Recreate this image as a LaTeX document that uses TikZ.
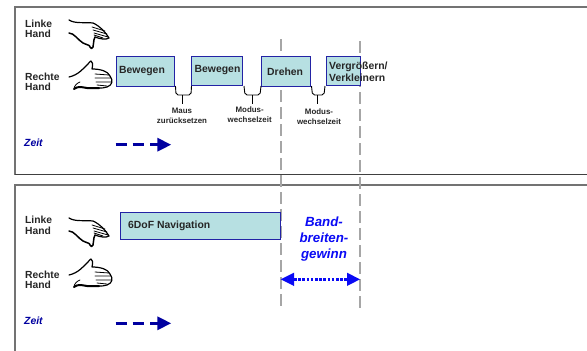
\documentclass[tikz,border=0pt]{standalone}
\usepackage{fontspec}
\setmainfont{Liberation Sans}
\definecolor{darkblue}{RGB}{0,0,160}
\definecolor{brightblue}{RGB}{10,10,245}
\definecolor{boxfill}{RGB}{183,224,226}
\definecolor{boxline}{RGB}{35,35,165}
\tikzset{
 x=1pt,y=-1pt,
 frame/.style={draw=black!55,line width=1.2pt},
 task/.style={draw=boxline,fill=boxfill,line width=1pt,inner sep=0pt,outer sep=0pt},
 lbl/.style={font=\fontsize{10.3}{10.2}\selectfont\bfseries,align=left,anchor=west,text=black!85,inner sep=0pt},
 small/.style={font=\fontsize{7.9}{10}\selectfont\bfseries,align=center,text=black!85,inner sep=0pt},
 tasklbl/.style={font=\fontsize{10.4}{12}\selectfont\bfseries,align=left,anchor=west,text=black!85,inner sep=0pt},
 zeit/.style={font=\fontsize{10.4}{12}\selectfont\bfseries\itshape,anchor=west,text=darkblue,inner sep=0pt},
 guide/.style={draw=black!35,line width=2.8pt,dash pattern=on 12pt off 5pt},
 brace/.style={draw=black,line width=.9pt,rounded corners=2pt},
 timeline/.style={draw=darkblue,line width=3.4pt},
 hand/.style={draw=black,line width=1.2pt,line cap=round,line join=round},
}
\newcommand{\lefthand}[2]{\begin{scope}[shift={(#1,#2)}]
 \draw[hand] (0,0) .. controls (6,4) and (16,2) .. (24,3) .. controls (31,6) and (37,13) .. (40,18) .. controls (37,20) and (31,19) .. (26,17);
 \draw[hand,line width=1.5pt] (0,13) .. controls (5,13) and (9,20) .. (14,23) .. controls (18,25) and (21,25) .. (21,27) .. controls (21,29) and (24,29) .. (24,27) .. controls (25,24) and (24,21) .. (26,17);
 \draw[hand,line width=.8pt] (23,7) -- (36,11) (24,10) -- (38,14) (25,13) -- (39,17) (25,15) -- (34,18);
\end{scope}}
\newcommand{\righthand}[2]{\begin{scope}[shift={(#1,#2)}]
 \draw[hand] (0,16) .. controls (9,14) and (14,8) .. (19,3) .. controls (21,1) and (21,0) .. (22,0) .. controls (25,3) and (23,6) .. (23,8) .. controls (31,8) and (39,10) .. (41,15) .. controls (44,19) and (44,24) .. (38,26) .. controls (35,27) and (33,27) .. (30,27);
 \draw[hand,line width=2pt] (5,28) .. controls (9,25) and (12,26) .. (18,27) -- (30,27);
 \draw[hand,line width=.8pt] (5,28) .. controls (5,25) and (8,22) .. (11,21);
 \draw[hand,line width=.8pt] (26,13) -- (40,14) (26,17) -- (42,17) (27,21) -- (42,21) (28,24) -- (38,25);
\end{scope}}
\begin{document}
\begin{tikzpicture}
\useasboundingbox (0,0) rectangle (587,351);
\fill[white] (0,0) rectangle (587,351);
% frames
\draw[frame] (587,7) -- (15,7) -- (15,174.5);
\draw[draw=black!75,line width=1.2pt] (15,174.5) -- (587,174.5);
\draw[frame] (587,185) -- (15,185) -- (15,351);
% guides
\coordinate (g1a) at (281,39);
\coordinate (g1b) at (281,308);
\coordinate (g2a) at (360,41);
\coordinate (g2b) at (360,309);
\draw[guide] (g1a) -- (g1b);
\draw[guide] (g2a) -- (g2b);
% top
\node[lbl] (ll1) at (25,28.5) {Linke\\Hand};
\node[lbl] (rh1) at (25,81.8) {Rechte\\Hand};
\lefthand{69}{20}
\righthand{69}{61}
\node[task,minimum width=58.4pt,minimum height=30pt,anchor=north west] (b1) at (116.4,56) {};
\node[task,minimum width=51pt,minimum height=29.7pt,anchor=north west] (b2) at (191.7,56) {};
\node[task,minimum width=49.4pt,minimum height=29.5pt,anchor=north west] (b3) at (261,56.5) {};
\node[task,minimum width=34.6pt,minimum height=29pt,anchor=north west] (b4) at (326,56.7) {};
\node[tasklbl] (t1) at (119,71.5) {Bewegen};
\node[tasklbl] (t2) at (194.5,70.5) {Bewegen};
\node[tasklbl] (t3) at (267,71.5) {Drehen};
\node[tasklbl] (t4) at (329,71.5) {Vergrößern/\\Verkleinern};
\draw[brace] (175.5,86) -- (176,95) -- (191,95) -- (191.5,86);
\draw[draw=black,line width=.9pt] (182.7,95) -- (182.7,104);
\draw[brace] (244,86) -- (245,95) -- (260,95) -- (261,86);
\draw[draw=black,line width=.9pt] (252,95) -- (252,104);
\draw[brace] (311.5,86) -- (312.5,95) -- (324,95) -- (325,86);
\draw[draw=black,line width=.9pt] (317.7,95) -- (317.7,104);
\node[small] (m1) at (182,116.3) {Maus\\zurücksetzen};
\node[small] (m2) at (249.7,114.3) {Modus-\\wechselzeit};
\node[small] (m3) at (319,116.7) {Modus-\\wechselzeit};
\node[zeit] (z1) at (24,142.5) {Zeit};
\draw[timeline] (115.7,144.7) -- (126.7,144.7) (132.7,144.7) -- (144,144.7) (150,144.7) -- (160,144.7);
\fill[darkblue] (157.3,137.7) -- (171,144.7) -- (157.3,151.7) -- cycle;
% bottom
\node[lbl] (ll2) at (25,225.3) {Linke\\Hand};
\node[lbl] (rh2) at (25,279.8) {Rechte\\Hand};
\lefthand{69}{218}
\righthand{69}{259}
\node[task,minimum width=160pt,minimum height=27pt,anchor=north west] (nav) at (120,212.3) {};
\node[tasklbl] (t5) at (128,226) {6DoF Navigation};
\node[font=\fontsize{13.3}{16}\selectfont\bfseries\itshape,align=center,text=brightblue,inner sep=0] (gain) at (324,239.5) {Band-\\breiten-\\gewinn};
\node[zeit] (z2) at (24,320.5) {Zeit};
\draw[timeline] (115.7,323.3) -- (126.7,323.3) (132.7,323.3) -- (144,323.3) (150,323.3) -- (160,323.3);
\fill[darkblue] (157.3,316.3) -- (171,323.3) -- (157.3,330.3) -- cycle;
\coordinate (aL) at (280.7,279.3);
\coordinate (aR) at (360,279.3);
\draw[brightblue,line width=3pt,dash pattern=on 2.6pt off 1.6pt] (294,279.3) -- (347,279.3);
\fill[brightblue] (aL) -- (294,272.7) -- (294,286) -- cycle;
\fill[brightblue] (aR) -- (347,272.7) -- (347,286) -- cycle;
\end{tikzpicture}
\end{document}
